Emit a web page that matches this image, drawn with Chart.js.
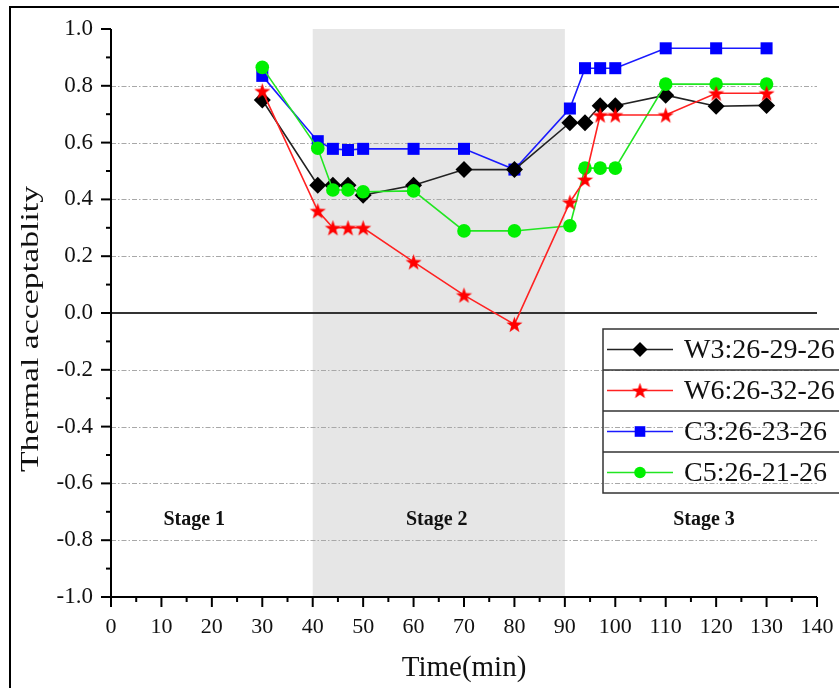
<!DOCTYPE html>
<html>
<head>
<meta charset="utf-8">
<script src="https://cdn.jsdelivr.net/npm/chart.js@4.4.1/dist/chart.umd.min.js"></script>
<style>
  html, body { margin: 0; padding: 0; background: #fff; }
  #wrap { width: 839px; height: 688px; position: relative; }
</style>
</head>
<body>
<div id="wrap"><canvas id="chart"></canvas></div>
<script>
// data
var times = [30, 41, 44, 47, 50, 60, 70, 80, 91, 94, 97, 100, 110, 120, 130];
var w3 = [0.75, 0.45, 0.45, 0.45, 0.415, 0.45, 0.505, 0.505, 0.67, 0.67, 0.73, 0.73, 0.767, 0.728, 0.731];
var w6 = [0.782, 0.36, 0.30, 0.30, 0.30, 0.18, 0.063, -0.04, 0.39, 0.47, 0.697, 0.697, 0.697, 0.774, 0.774];
var c3 = [0.835, 0.605, 0.578, 0.574, 0.578, 0.578, 0.578, 0.505, 0.72, 0.862, 0.862, 0.862, 0.932, 0.932, 0.932];
var c5 = [0.865, 0.58, 0.433, 0.433, 0.427, 0.43, 0.289, 0.289, 0.307, 0.51, 0.51, 0.51, 0.806, 0.806, 0.806];
var seriesNames = ['W3:26-29-26', 'W6:26-32-26', 'C3:26-23-26', 'C5:26-21-26'];

var stage2 = [40, 90];
var stageNames = ['Stage 1', 'Stage 2', 'Stage 3'];
var stageX = [16.5, 64.6, 117.6];
var stageY = -0.73;

var xMin = 0, xMax = 140, xStep = 10;
var yMin = -1, yMax = 1, yStep = 0.2;

var serif = "'Liberation Serif', 'DejaVu Serif', serif";

function makeStar(color, r) {
  var size = Math.ceil(r * 2) + 2;
  var c = document.createElement('canvas');
  c.width = size; c.height = size;
  var g = c.getContext('2d');
  g.fillStyle = color;
  g.beginPath();
  for (var i = 0; i < 10; i++) {
    var rr = i % 2 ? r * 0.4 : r;
    var a = -Math.PI / 2 + i * Math.PI / 5;
    g.lineTo(size / 2 + rr * Math.cos(a), size / 2 + rr * Math.sin(a) + 0.8);
  }
  g.closePath();
  g.fill();
  return c;
}
var redStar = makeStar('#ff0000', 8.5);

function pts(vals) {
  return vals.map(function(v, i) { return {x: times[i], y: v}; });
}

var datasets = [
  { label: seriesNames[0], data: pts(w3), borderColor: '#222', backgroundColor: '#000',
    pointBackgroundColor: '#000', pointStyle: 'rectRot', pointRadius: 8.5, order: 2 },
  { label: seriesNames[1], data: pts(w6), borderColor: '#ff2222', backgroundColor: '#ff0000',
    pointBackgroundColor: '#ff0000', pointStyle: redStar, pointRadius: 8, order: 0 },
  { label: seriesNames[2], data: pts(c3), borderColor: '#1a1aff', backgroundColor: '#0000ff',
    pointBackgroundColor: '#0000ff', pointStyle: 'rect', pointRadius: 8.5, order: 3 },
  { label: seriesNames[3], data: pts(c5), borderColor: '#22e622', backgroundColor: '#00f000',
    pointBackgroundColor: '#00f000', pointStyle: 'circle', pointRadius: 6.8, order: 1 }
];
datasets.forEach(function(d) {
  d.borderWidth = 1.6;
  d.pointBorderWidth = 0;
  d.pointHoverRadius = d.pointRadius;
  d.tension = 0;
  d.fill = false;
});

var deco = {
  id: 'deco',
  beforeDatasetsDraw: function(chart) {
    var ctx = chart.ctx, a = chart.chartArea, x = chart.scales.x, y = chart.scales.y;
    ctx.save();
    // stage 2 band
    var b0 = x.getPixelForValue(stage2[0]), b1 = x.getPixelForValue(stage2[1]);
    ctx.fillStyle = '#e6e6e6';
    ctx.fillRect(b0, a.top, b1 - b0, a.bottom - a.top);

    // dash-dot grid
    ctx.strokeStyle = '#a8a8a8';
    ctx.lineWidth = 1;
    ctx.setLineDash([5, 2, 1.5, 2]);
    y.ticks.forEach(function(t) {
      if (Math.abs(t.value) < 1e-9 || t.value >= yMax - 1e-9 || t.value <= yMin + 1e-9) return;
      var py = Math.round(y.getPixelForValue(t.value)) + 0.5;
      ctx.beginPath(); ctx.moveTo(a.left, py); ctx.lineTo(a.right, py); ctx.stroke();
    });
    ctx.setLineDash([]);

    // zero line
    var p0 = Math.round(y.getPixelForValue(0));
    ctx.strokeStyle = '#333';
    ctx.lineWidth = 2;
    ctx.beginPath(); ctx.moveTo(a.left, p0); ctx.lineTo(a.right, p0); ctx.stroke();

    // axes
    ctx.strokeStyle = '#000';
    ctx.lineWidth = 2;
    ctx.beginPath();
    ctx.moveTo(a.left, a.top); ctx.lineTo(a.left, a.bottom); ctx.lineTo(a.right, a.bottom);
    ctx.stroke();

    // ticks, major and minor
    var i, p, q;
    for (i = 0; i < y.ticks.length; i++) {
      p = y.getPixelForValue(y.ticks[i].value);
      ctx.beginPath(); ctx.moveTo(a.left, p); ctx.lineTo(a.left - 10, p); ctx.stroke();
      if (i < y.ticks.length - 1) {
        q = (p + y.getPixelForValue(y.ticks[i + 1].value)) / 2;
        ctx.beginPath(); ctx.moveTo(a.left, q); ctx.lineTo(a.left - 5, q); ctx.stroke();
      }
    }
    for (i = 0; i < x.ticks.length; i++) {
      p = x.getPixelForValue(x.ticks[i].value);
      ctx.beginPath(); ctx.moveTo(p, a.bottom); ctx.lineTo(p, a.bottom + 10); ctx.stroke();
      if (i < x.ticks.length - 1) {
        q = (p + x.getPixelForValue(x.ticks[i + 1].value)) / 2;
        ctx.beginPath(); ctx.moveTo(q, a.bottom); ctx.lineTo(q, a.bottom + 5); ctx.stroke();
      }
    }

    // stage labels
    ctx.fillStyle = '#111';
    ctx.font = 'bold 20px ' + serif;
    ctx.textAlign = 'center';
    ctx.textBaseline = 'middle';
    stageNames.forEach(function(s, k) {
      ctx.fillText(s, x.getPixelForValue(stageX[k]), y.getPixelForValue(stageY));
    });
    ctx.restore();
  },
  afterDraw: function(chart) {
    var ctx = chart.ctx, a = chart.chartArea;
    ctx.save();
    // y axis title, stretched along its length like the original
    ctx.translate(31, (a.top + a.bottom) / 2 + 16);
    ctx.rotate(-Math.PI / 2);
    ctx.scale(1.3, 1);
    ctx.font = '26px ' + serif;
    ctx.fillStyle = '#111';
    ctx.textAlign = 'center';
    ctx.textBaseline = 'middle';
    ctx.fillText('Thermal acceptablity', 0, 0);
    ctx.setTransform(1, 0, 0, 1, 0, 0);

    // legend box
    var lx = 603, ly = 329, rowH = 41;
    ctx.strokeStyle = '#333';
    ctx.lineWidth = 1.5;
    ctx.strokeRect(lx, ly, 260, rowH * 4);
    for (var r = 1; r < 4; r++) {
      ctx.beginPath(); ctx.moveTo(lx, ly + r * rowH); ctx.lineTo(chart.width, ly + r * rowH); ctx.stroke();
    }
    ctx.font = '28px ' + serif;
    ctx.textAlign = 'left';
    ctx.textBaseline = 'middle';
    chart.data.datasets.forEach(function(d, k) {
      var cy = ly + k * rowH + rowH / 2;
      ctx.strokeStyle = d.borderColor;
      ctx.lineWidth = 1.6;
      ctx.beginPath(); ctx.moveTo(lx + 4, cy); ctx.lineTo(lx + 70, cy); ctx.stroke();
      ctx.fillStyle = d.pointBackgroundColor;
      Chart.helpers.drawPoint(ctx, {pointStyle: d.pointStyle, radius: d.pointRadius - 1, rotation: 0, borderWidth: 0}, lx + 37, cy);
      ctx.fillStyle = '#111';
      ctx.fillText(seriesNames[k], lx + 81, cy + 1);
    });

    // outer frame
    ctx.strokeStyle = '#000';
    ctx.lineWidth = 2;
    ctx.beginPath();
    ctx.moveTo(10, chart.height); ctx.lineTo(10, 7); ctx.lineTo(chart.width, 7);
    ctx.stroke();
    ctx.restore();
  }
};

new Chart(document.getElementById('chart'), {
  type: 'line',
  data: { datasets: datasets },
  options: {
    responsive: true,
    maintainAspectRatio: false,
    animation: false,
    layout: { padding: { top: 29, right: 22, left: 0, bottom: 0 } },
    plugins: { legend: { display: false }, tooltip: { enabled: false } },
    scales: {
      x: {
        type: 'linear', min: xMin, max: xMax,
        grid: { display: false, drawTicks: false },
        border: { display: false },
        ticks: { stepSize: xStep, padding: 17, color: '#111', font: { family: serif, size: 22 } },
        title: { display: true, text: 'Time(min)', color: '#111', padding: { top: 0, bottom: 2 },
                 font: { family: serif, size: 29 } },
        afterFit: function(s) { s.height = 91; s.paddingLeft = 0; s.paddingRight = 0; }
      },
      y: {
        min: yMin, max: yMax,
        grid: { display: false, drawTicks: false },
        border: { display: false },
        ticks: { stepSize: yStep, padding: 18, color: '#111', font: { family: serif, size: 23 },
                 callback: function(v) { return Math.abs(v) < 1e-9 ? '0.0' : v.toFixed(1); } },
        afterFit: function(s) { s.width = 111; s.paddingTop = 0; s.paddingBottom = 0; }
      }
    }
  },
  plugins: [deco]
});
</script>
</body>
</html>
